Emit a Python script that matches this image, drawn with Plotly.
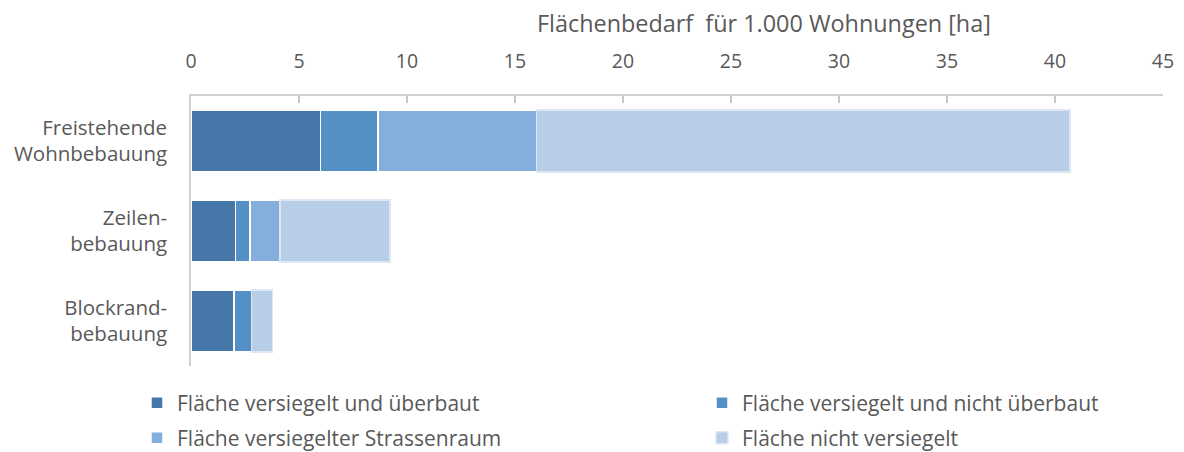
import plotly.graph_objects as go

categories = ["Freistehende<br>Wohnbebauung", "Zeilen-<br>bebauung", "Blockrand-<br>bebauung"]
series_names = [
    "Fläche versiegelt und überbaut",
    "Fläche versiegelt und nicht überbaut",
    "Fläche versiegelter Strassenraum",
    "Fläche nicht versiegelt",
]
versiegelt_ueberbaut = [6.0, 2.05, 2.0]
versiegelt_nicht_ueberbaut = [2.65, 0.67, 0.8]
strassenraum = [7.35, 1.39, 0.0]
nicht_versiegelt = [24.7, 5.1, 0.97]
x_ticks = [0, 5, 10, 15, 20, 25, 30, 35, 40, 45]
axis_title = "Flächenbedarf  für 1.000 Wohnungen [ha]"

colors = ["#4677a8", "#5390c6", "#84aedb", "#b8cde6"]
line_colors = ["#ffffff", "#ffffff", "#ffffff", "#dde7f3"]
values = [versiegelt_ueberbaut, versiegelt_nicht_ueberbaut, strassenraum, nicht_versiegelt]

FONT = "Open Sans"
TXT = "#595959"
OFF = 8  # default page body margin
W, H = 1184 - OFF, 452 - OFF
# plot area in screen pixels
PL, PR, PT, PB = 191, 1163, 96, 366
ML, MR, MT, MB = PL - OFF, (W + OFF) - PR, PT - OFF, (H + OFF) - PB
PW = PR - PL
PH = PB - PT

def px_x(s):
    return (s - PL) / PW

def px_y(s):
    return 1 - (s - PT) / PH

# legend slots: (left px, centre y px) in screen coordinates
legend_slots = [(137, 403), (702, 403), (137, 438), (702, 438)]
legend_ids = ["legend", "legend2", "legend3", "legend4"]

fig = go.Figure()
for name, vals, c, lc, lid in zip(series_names, values, colors, line_colors, legend_ids):
    fig.add_trace(go.Bar(
        y=categories, x=vals, name=name, orientation="h", legend=lid,
        marker=dict(color=c, line=dict(color=lc, width=1.5)),
    ))

layout_legends = {}
for lid, (lx, ly) in zip(legend_ids, legend_slots):
    layout_legends[lid] = dict(
        x=px_x(lx), xanchor="left", y=px_y(ly), yanchor="middle",
        itemwidth=30, bgcolor="rgba(0,0,0,0)",
        font=dict(family=FONT, size=21, color=TXT),
    )

fig.update_layout(
    width=W, height=H,
    barmode="stack", bargap=0.31,
    paper_bgcolor="white", plot_bgcolor="white",
    margin=dict(l=ML, r=MR, t=MT, b=MB, autoexpand=False),
    font=dict(family=FONT, size=20, color=TXT),
    showlegend=True,
    xaxis=dict(
        side="top", range=[0, 45], tickvals=x_ticks, ticktext=[str(t) for t in x_ticks],
        showgrid=False, zeroline=False, showline=True, linecolor="#d0d0d0", linewidth=1.5,
        ticks="inside", ticklen=7, tickcolor="#c8c8c8", tickwidth=1.5,
        tickfont=dict(family=FONT, size=19.5, color=TXT), ticklabelstandoff=18,
        automargin=False,
    ),
    yaxis=dict(
        categoryorder="array", categoryarray=categories, autorange="reversed",
        showgrid=False, zeroline=False, showline=True, linecolor="#d0d0d0", linewidth=1.5,
        ticks="", tickfont=dict(family=FONT, size=20.5, color=TXT), ticklabelstandoff=18,
        automargin=False,
    ),
    annotations=[dict(
        text=axis_title, x=px_x(764), y=px_y(23), xref="paper", yref="paper",
        xanchor="center", yanchor="middle", showarrow=False,
        font=dict(family=FONT, size=23.4, color=TXT),
    )],
    **layout_legends,
)

fig.write_html("out.html")
